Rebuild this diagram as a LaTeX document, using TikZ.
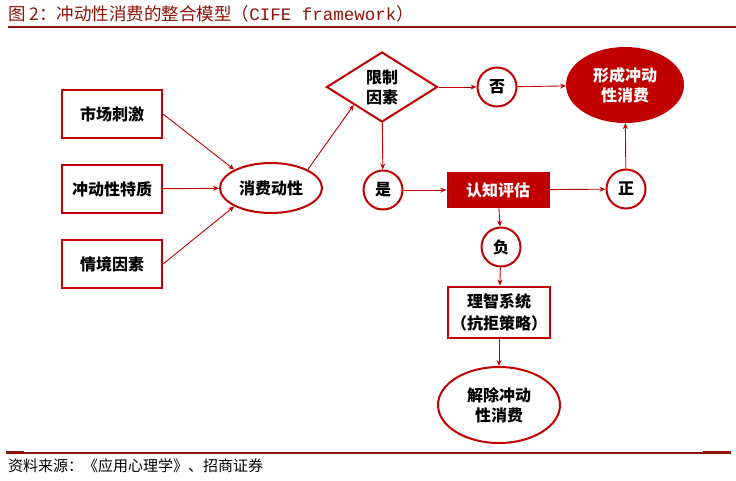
\documentclass[tikz,border=0pt]{standalone}
\usepackage{fontspec}
\setmainfont{Noto Sans CJK SC}
\setmonofont{Liberation Mono}
\usepackage{tikz}
\usetikzlibrary{shapes.geometric, arrows.meta, positioning, calc}
\definecolor{cred}{RGB}{192,0,0}
\definecolor{tred}{RGB}{140,20,10}
\begin{document}
\begin{tikzpicture}[
  x=1pt, y=-1pt,
  box/.style={rectangle, draw=cred, line width=2pt, minimum width=100pt, minimum height=48pt, align=center, font=\fontsize{16}{19}\selectfont\bfseries},
  oval/.style={ellipse, draw=cred, line width=2pt, inner sep=0pt, align=center, font=\fontsize{16}{20}\selectfont\bfseries},
  dot/.style={circle, draw=cred, line width=2pt, minimum size=39pt, inner sep=0pt, font=\fontsize{16}{19}\selectfont\bfseries},
  arr/.style={-{Stealth[length=6pt, width=5pt]}, cred, line width=0.9pt},
]
\useasboundingbox (0,0) rectangle (736,480);

% === Title and rules ===
\node[anchor=west, text=tred, font=\fontsize{17.5}{19}\selectfont, inner sep=0pt] (title) at (8,14) {图 2：冲动性消费的整合模型（\texttt{CIFE framework}）};
\draw[tred, line width=2pt] (8,27) -- (736,27);
\draw[tred, line width=1.5pt] (6,453) -- (731,453);
\draw[tred, line width=3pt] (6,452) -- (24,452);
\draw[tred, line width=3pt] (703,452) -- (731,452);
\node[anchor=west, font=\fontsize{15}{17}\selectfont, inner sep=0pt] (src) at (8,466) {资料来源：《应用心理学》、招商证券};

% === Left column: inputs ===
\node[box] (stim) at (112,114) {市场刺激};
\node[box] (trait) at (112,189) {冲动性特质};
\node[box] (situ) at (112,264) {情境因素};

% === Middle: motive and constraint ===
\node[oval, minimum width=102pt, minimum height=50pt] (motive) at (271,188) {消费动性};
\node[diamond, draw=cred, line width=2pt, minimum width=111pt, minimum height=70pt, inner sep=0pt, align=center, font=\fontsize{16}{20}\selectfont\bfseries] (limit) at (382,87) {限制\\因素};

% === Right: outcomes ===
\node[dot] (no) at (497,87) {否};
\node[oval, fill=cred, text=white, minimum width=116pt, minimum height=74pt] (buy) at (625,85) {形成冲动\\性消费};
\node[dot] (yes) at (383,190) {是};
\node[rectangle, fill=cred, text=white, minimum width=103pt, minimum height=36pt, font=\fontsize{16}{19}\selectfont\bfseries] (eval) at (498,190) {认知评估};
\node[dot] (pos) at (626,189) {正};
\node[dot] (neg) at (501,247) {负};
\node[box, minimum width=102pt, minimum height=51pt, font=\fontsize{16}{22}\selectfont\bfseries] (reason) at (499,312) {理智系统\\（抗拒策略）};
\node[oval, minimum width=122pt, minimum height=76pt] (stop) at (499,405) {解除冲动\\性消费};

% === Arrows ===
\draw[arr] (stim.east) -- (motive.north west);
\draw[arr] (trait) -- (motive);
\draw[arr] (situ.east) -- (motive.south west);
\draw[arr] (motive.north east) -- (limit.south west);
\draw[arr] (limit) -- (no);
\draw[arr] (no) -- (buy);
\draw[arr] (limit) -- (yes);
\draw[arr] (yes) -- (eval);
\draw[arr] (eval) -- (pos);
\draw[arr] (pos) -- (buy);
\draw[arr] (eval) -- (neg);
\draw[arr] (neg) -- (reason);
\draw[arr] (reason) -- (stop);
\end{tikzpicture}
\end{document}
